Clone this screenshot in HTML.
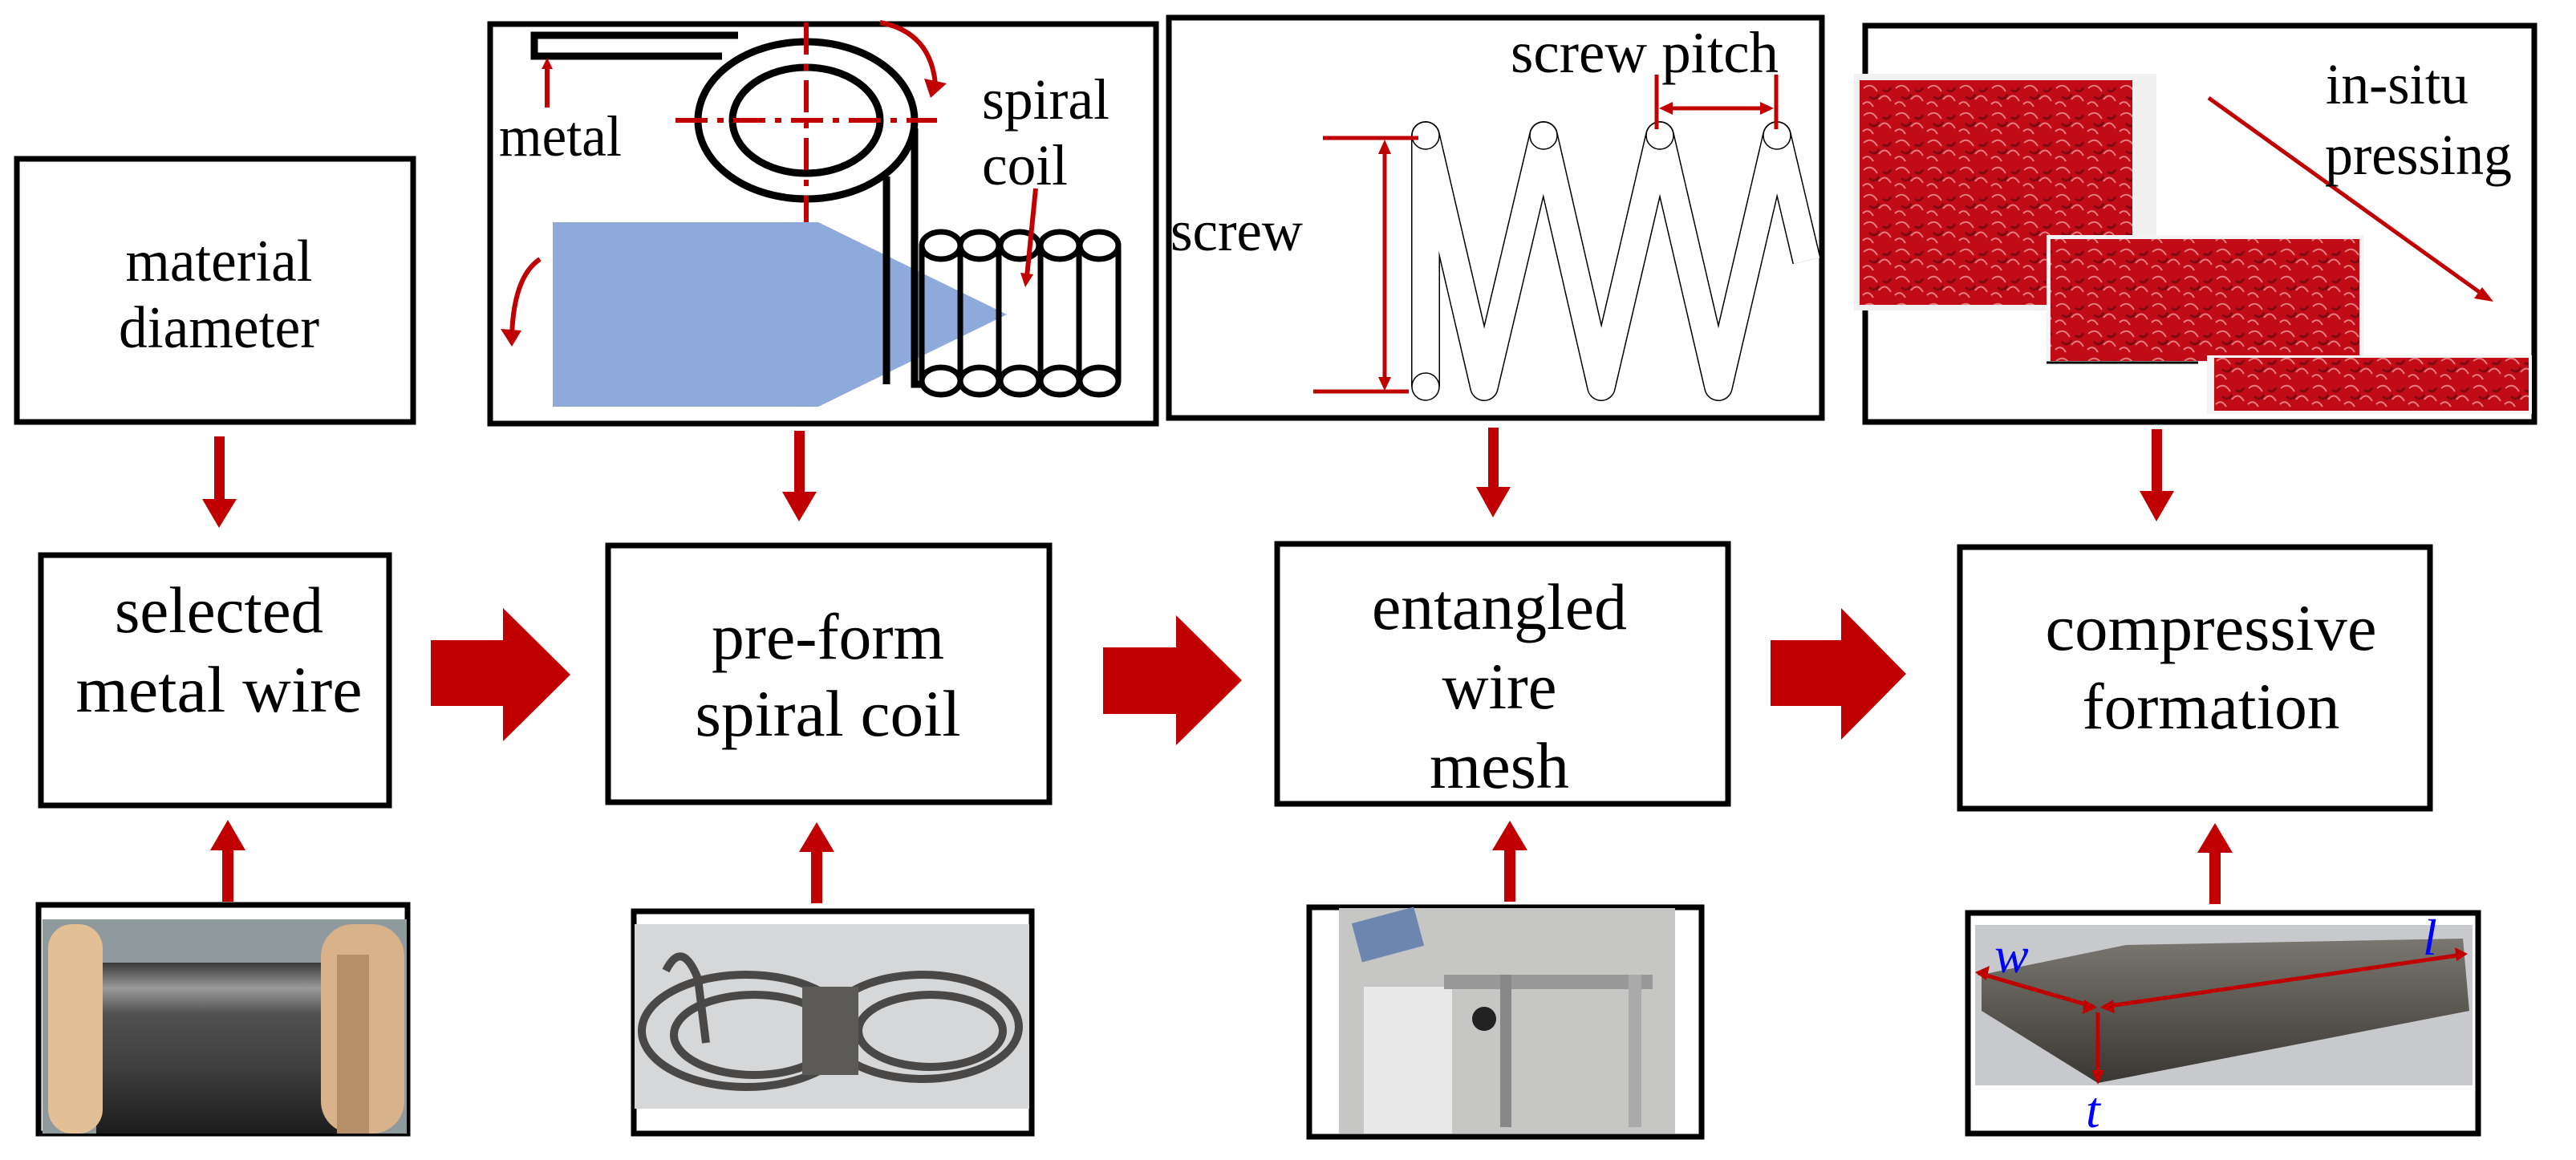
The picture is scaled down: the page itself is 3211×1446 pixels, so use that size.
<!DOCTYPE html>
<html><head><meta charset="utf-8"><style>
html,body{margin:0;padding:0;background:#fff;}
svg{display:block;font-family:"Liberation Serif","DejaVu Serif",serif;}
text{font-family:"Liberation Serif","DejaVu Serif",serif;fill:#000;}
</style></head><body>
<svg width="3211" height="1446" viewBox="0 0 3211 1446" xmlns="http://www.w3.org/2000/svg" font-family="'Liberation Serif','DejaVu Serif',serif">
<defs>
<pattern id="mesh" width="40" height="34" patternUnits="userSpaceOnUse">
<rect width="40" height="34" fill="#c10c18"/>
<path d="M3 8 q10 -8 17 4 M22 22 q8 -10 15 2 M2 28 q7 -7 13 3" stroke="#e87a80" stroke-width="2" fill="none"/>
<path d="M10 18 q7 7 12 -2 M27 10 q6 5 10 -3" stroke="#7e0a10" stroke-width="3" fill="none"/>
</pattern>
<linearGradient id="wire" x1="0" y1="0" x2="0" y2="1">
<stop offset="0" stop-color="#3a3a3a"/><stop offset="0.15" stop-color="#9a9a9a"/><stop offset="0.3" stop-color="#505050"/><stop offset="0.6" stop-color="#404040"/><stop offset="1" stop-color="#1c1c1c"/>
</linearGradient>
<linearGradient id="foam" x1="0" y1="0" x2="0" y2="1">
<stop offset="0" stop-color="#7a7670"/><stop offset="0.5" stop-color="#5a5650"/><stop offset="1" stop-color="#3a3834"/>
</linearGradient>
</defs>

<g fill="none" stroke="#000" stroke-width="7">
<rect x="21" y="198" width="494" height="328"/>
<rect x="51" y="692" width="434" height="312"/>
<rect x="758" y="680" width="550" height="320"/>
<rect x="611" y="30" width="830" height="498"/>
<rect x="1457" y="22" width="814" height="499"/>
<rect x="1592" y="678" width="562" height="324"/>
<rect x="2443" y="682" width="586" height="326"/>
<rect x="2325" y="32" width="834" height="494"/>
<rect x="48" y="1128" width="460" height="285"/>
<rect x="790" y="1136" width="496" height="277"/>
<rect x="1632" y="1131" width="489" height="286"/>
<rect x="2453" y="1138" width="636" height="275"/>
</g>

<!-- labels -->
<text x="273" y="350" font-size="74" text-anchor="middle" textLength="233" lengthAdjust="spacingAndGlyphs">material</text>
<text x="273" y="433" font-size="74" text-anchor="middle" textLength="250" lengthAdjust="spacingAndGlyphs">diameter</text>
<text x="273" y="788" font-size="82" text-anchor="middle" textLength="260" lengthAdjust="spacingAndGlyphs">selected</text>
<text x="273" y="887" font-size="82" text-anchor="middle" textLength="357" lengthAdjust="spacingAndGlyphs">metal  wire</text>
<text x="1032" y="821" font-size="82" text-anchor="middle" textLength="290" lengthAdjust="spacingAndGlyphs">pre-form</text>
<text x="1032" y="917" font-size="82" text-anchor="middle" textLength="331" lengthAdjust="spacingAndGlyphs">spiral  coil</text>
<text x="1869" y="784" font-size="82" text-anchor="middle" textLength="318" lengthAdjust="spacingAndGlyphs">entangled</text>
<text x="1869" y="883" font-size="82" text-anchor="middle" textLength="143" lengthAdjust="spacingAndGlyphs">wire</text>
<text x="1869" y="982" font-size="82" text-anchor="middle" textLength="174" lengthAdjust="spacingAndGlyphs">mesh</text>
<text x="2756" y="810" font-size="82" text-anchor="middle" textLength="413" lengthAdjust="spacingAndGlyphs">compressive</text>
<text x="2756" y="908" font-size="82" text-anchor="middle" textLength="321" lengthAdjust="spacingAndGlyphs">formation</text>

<!-- down arrows -->
<g fill="#c00000">
<rect x="267" y="544" width="13" height="80"/><polygon points="252,622 295,622 273,658"/>
<rect x="990" y="537" width="13" height="78"/><polygon points="975,613 1018,613 996,650"/>
<rect x="1855" y="533" width="13" height="76"/><polygon points="1840,607 1883,607 1861,645"/>
<rect x="2682" y="535" width="13" height="78"/><polygon points="2667,612 2710,612 2688,650"/>
<rect x="277" y="1058" width="14" height="66"/><polygon points="262,1060 306,1060 284,1022"/>
<rect x="1011" y="1060" width="14" height="66"/><polygon points="996,1062 1040,1062 1018,1025"/>
<rect x="1875" y="1058" width="14" height="66"/><polygon points="1860,1060 1904,1060 1882,1023"/>
<rect x="2754" y="1061" width="14" height="66"/><polygon points="2739,1063 2783,1063 2761,1026"/>
<polygon points="537,798 627,798 627,758 711,841 627,924 627,880 537,880"/>
<polygon points="1375,807 1466,807 1466,767 1548,848 1466,929 1466,890 1375,890"/>
<polygon points="2207,798 2295,798 2295,758 2376,840 2295,922 2295,880 2207,880"/>
</g>

<!-- coil diagram -->
<polygon points="689,277 1020,277 1255,392 1020,507 689,507" fill="#8eaadb"/>
<g fill="none" stroke="#000" stroke-width="9">
<path d="M920 44 L666 44 L666 70 L900 70"/>
<ellipse cx="1005" cy="150" rx="135" ry="98"/>
<ellipse cx="1005" cy="150" rx="92" ry="66"/>
<path d="M1140 160 L1140 479 L1180 479"/>
<path d="M1105 220 L1105 479"/>
<g stroke-width="7">
<line x1="1149" y1="306" x2="1149" y2="475"/>
<line x1="1197" y1="306" x2="1197" y2="475"/>
<line x1="1245" y1="306" x2="1245" y2="475"/>
<line x1="1297" y1="306" x2="1297" y2="475"/>
<line x1="1345" y1="306" x2="1345" y2="475"/>
<line x1="1394" y1="306" x2="1394" y2="475"/>
</g>
</g>
<g fill="#fff" stroke="#000" stroke-width="7">
<ellipse cx="1173" cy="306" rx="24" ry="17"/><ellipse cx="1221" cy="306" rx="24" ry="17"/><ellipse cx="1271" cy="306" rx="24" ry="17"/><ellipse cx="1321" cy="306" rx="24" ry="17"/><ellipse cx="1370" cy="306" rx="24" ry="17"/>
<ellipse cx="1173" cy="475" rx="24" ry="17"/><ellipse cx="1221" cy="475" rx="24" ry="17"/><ellipse cx="1271" cy="475" rx="24" ry="17"/><ellipse cx="1321" cy="475" rx="24" ry="17"/><ellipse cx="1370" cy="475" rx="24" ry="17"/>
</g>
<g stroke="#c00000" stroke-width="6" fill="none">
<path d="M842 150 L1168 150" stroke-dasharray="40,12,8,12"/>
<path d="M1005 28 L1005 277" stroke-dasharray="40,12,8,12"/>
<line x1="682" y1="134" x2="682" y2="82"/>
<line x1="1291" y1="235" x2="1280" y2="345"/>
<path d="M1097 28 Q1160 40 1166 105"/>
<path d="M673 323 Q640 345 638 420"/>
</g>
<g fill="#c00000">
<polygon points="675,86 689,86 682,72"/>
<polygon points="1272,340 1288,342 1278,358"/>
<polygon points="1152,98 1180,104 1160,122"/>
<polygon points="624,410 650,412 638,432"/>
</g>
<text x="622" y="194" font-size="72" textLength="153" lengthAdjust="spacingAndGlyphs">metal</text>
<text x="1224" y="148" font-size="72" textLength="159" lengthAdjust="spacingAndGlyphs">spiral</text>
<text x="1224" y="230" font-size="72" textLength="107" lengthAdjust="spacingAndGlyphs">coil</text>

<!-- screw diagram -->
<path d="M1777,482 L1777,169 L1850,482 L1924,169 L1996,482 L2069,169 L2142,482 L2215,169 L2252,325" fill="none" stroke="#000" stroke-width="36" stroke-linejoin="round"/>
<path d="M1777,482 L1777,169 L1850,482 L1924,169 L1996,482 L2069,169 L2142,482 L2215,169 L2252,325" fill="none" stroke="#fff" stroke-width="33" stroke-linejoin="round"/>
<g fill="#fff" stroke="#000" stroke-width="1.5">
<circle cx="1777" cy="169" r="17"/><circle cx="1924" cy="169" r="17"/><circle cx="2069" cy="169" r="17"/><circle cx="2215" cy="169" r="17"/><circle cx="1777" cy="482" r="17"/>
</g>
<g stroke="#c00000" stroke-width="5" fill="none">
<line x1="1649" y1="172" x2="1768" y2="172"/>
<line x1="1637" y1="488" x2="1756" y2="488"/>
<line x1="1726" y1="185" x2="1726" y2="476"/>
<line x1="2065" y1="93" x2="2065" y2="161"/>
<line x1="2214" y1="93" x2="2214" y2="161"/>
<line x1="2078" y1="135" x2="2200" y2="135"/>
</g>
<g fill="#c00000">
<polygon points="1718,192 1734,192 1726,174"/><polygon points="1718,470 1734,470 1726,487"/>
<polygon points="2085,127 2085,143 2068,135"/><polygon points="2194,127 2194,143 2211,135"/>
</g>
<text x="1883" y="90" font-size="73" textLength="334" lengthAdjust="spacingAndGlyphs">screw  pitch</text>
<text x="1459" y="312" font-size="72" textLength="165" lengthAdjust="spacingAndGlyphs">screw</text>

<!-- in-situ -->
<rect x="2311" y="92" width="377" height="295" fill="#f0f0f0"/>
<rect x="2318" y="100" width="340" height="280" fill="url(#mesh)"/>
<rect x="2551" y="293" width="396" height="159" fill="#f4f4f4"/>
<rect x="2556" y="298" width="385" height="152" fill="url(#mesh)"/>
<rect x="2751" y="443" width="405" height="73" fill="#f4f4f4"/>
<rect x="2760" y="446" width="392" height="66" fill="url(#mesh)"/>
<line x1="2551" y1="452" x2="2740" y2="452" stroke="#000" stroke-width="3"/>
<line x1="2753" y1="122" x2="3096" y2="368" stroke="#c00000" stroke-width="5"/>
<polygon points="3108,376 3084,372 3094,358" fill="#c00000"/>
<text x="2899" y="129" font-size="72" textLength="178" lengthAdjust="spacingAndGlyphs">in-situ</text>
<text x="2898" y="217" font-size="72" textLength="233" lengthAdjust="spacingAndGlyphs">pressing</text>

<!-- spool photo -->
<rect x="53" y="1146" width="454" height="267" fill="#8f9a9c"/>
<rect x="120" y="1200" width="330" height="213" fill="url(#wire)"/>
<rect x="60" y="1152" width="68" height="261" rx="30" fill="#e2bf95"/>
<rect x="400" y="1152" width="104" height="261" rx="40" fill="#d8b389"/>
<rect x="420" y="1190" width="40" height="223" fill="#b58f68"/>
<!-- coil photo -->
<rect x="791" y="1152" width="492" height="230" fill="#d5d7d9"/>
<g fill="none" stroke="#4a4846" stroke-width="10">
<ellipse cx="930" cy="1285" rx="130" ry="70"/><ellipse cx="940" cy="1290" rx="100" ry="50"/>
<ellipse cx="1150" cy="1280" rx="120" ry="65"/><ellipse cx="1160" cy="1285" rx="90" ry="45"/>
<path d="M830 1210 q20 -40 40 10 l10 80"/>
</g>
<rect x="1000" y="1230" width="70" height="110" fill="#5c5a56"/>
<!-- machine photo -->
<rect x="1669" y="1132" width="419" height="281" fill="#c6c6c4"/>
<rect x="1700" y="1230" width="110" height="183" fill="#e8e8e8"/>
<rect x="1690" y="1140" width="80" height="50" fill="#6c86b0" transform="rotate(-15 1730 1165)"/>
<rect x="1800" y="1215" width="260" height="18" fill="#999"/>
<rect x="1870" y="1215" width="14" height="190" fill="#888"/>
<rect x="2030" y="1215" width="16" height="190" fill="#aaa"/>
<circle cx="1850" cy="1270" r="15" fill="#222"/>
<!-- foam photo -->
<rect x="2462" y="1153" width="620" height="200" fill="#c8c9cd"/>
<polygon points="2470,1215 2650,1178 3070,1170 3078,1260 2615,1350 2470,1260" fill="url(#foam)"/>
<g stroke="#c00000" stroke-width="5" fill="none">
<line x1="2466" y1="1213" x2="2610" y2="1255"/>
<line x1="2622" y1="1255" x2="3070" y2="1190"/>
<line x1="2615" y1="1262" x2="2615" y2="1345"/>
</g>
<g fill="#c00000">
<polygon points="2462,1212 2480,1204 2476,1222"/>
<polygon points="2614,1256 2596,1264 2598,1246"/>
<polygon points="2618,1256 2634,1246 2636,1263"/>
<polygon points="3076,1189 3060,1181 3062,1198"/>
<polygon points="2607,1334 2623,1334 2615,1352"/>
</g>
<g font-style="italic" font-size="64">
<text x="2486" y="1212" style="fill:#0000ff">w</text>
<text x="3020" y="1190" style="fill:#0000ff">l</text>
<text x="2600" y="1405" style="fill:#0000ff">t</text>
</g>
</svg>
</body></html>
